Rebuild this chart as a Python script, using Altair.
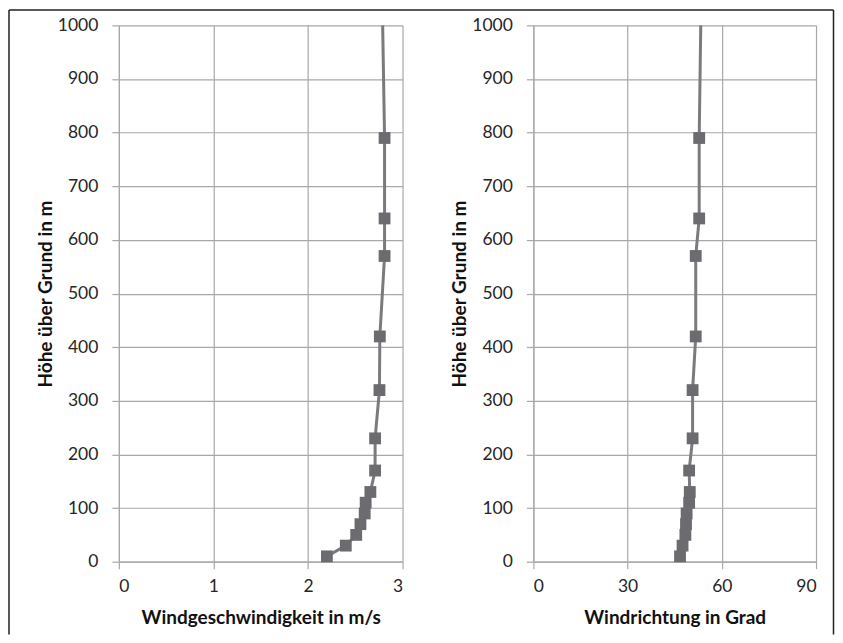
import altair as alt
import pandas as pd

# Height above ground (m) of the measured levels (markers)
heights = [10, 30, 50, 70, 90, 110, 130, 170, 230, 320, 420, 570, 640, 790]
# Wind speed (m/s) at those heights
speed = [2.20, 2.40, 2.51, 2.555, 2.60, 2.61, 2.66, 2.71, 2.71, 2.756, 2.76, 2.81, 2.81, 2.81]
# Wind direction (degrees) at those heights
direction = [46.7, 47.5, 48.4, 48.6, 48.8, 49.6, 49.8, 49.6, 50.7, 50.7, 51.7, 51.7, 52.8, 52.8]
# line continues to the top of the plot (no marker there)
top_height = 1000
top_speed = 2.79
top_direction = 53.3

y_ticks = list(range(0, 1001, 100))
speed_ticks = [0, 1, 2, 3]
dir_ticks = [0, 30, 60, 90]

pts = pd.DataFrame({"h": heights, "v": speed, "d": direction})
line_df = pd.DataFrame({
    "h": heights + [top_height],
    "v": speed + [top_speed],
    "d": direction + [top_direction],
})

FONT = "Lato"
GRID = "#a8a8a8"
LINE = "#7b7b7e"
MARK = "#6c6c70"
W, H = 284, 537


def y_axis():
    return alt.Axis(values=y_ticks, format="d", title="Höhe über Grund in m", grid=True,
                    gridColor=GRID, gridWidth=1.2, domainColor=GRID, domainWidth=1.2,
                    tickColor=GRID, tickSize=7, tickWidth=1.2, labelPadding=14,
                    labelFont=FONT, labelFontSize=17.5, labelColor="#262626",
                    titleFont=FONT, titleFontSize=19, titleFontWeight="bold",
                    titleColor="#111111", titlePadding=2)


def x_axis(ticks, title):
    return alt.Axis(values=ticks, format="d", title=title, grid=True, gridColor=GRID, gridWidth=1.2,
                    domainColor=GRID, domainWidth=1.2, tickColor=GRID, tickSize=7,
                    tickWidth=1.2, labelPadding=9, labelFont=FONT, labelFontSize=17.5,
                    labelColor="#262626", titleFont=FONT, titleFontSize=19,
                    titleFontWeight="bold", titleColor="#111111", titlePadding=13)


def panel(field, dom, ticks, title):
    x = alt.X(f"{field}:Q", scale=alt.Scale(domain=dom, nice=False), axis=x_axis(ticks, title))
    y = alt.Y("h:Q", scale=alt.Scale(domain=[0, 1000], nice=False), axis=y_axis())
    ln = alt.Chart(line_df).mark_line(color=LINE, strokeWidth=3).encode(x=x, y=y, order="h:Q")
    pt = alt.Chart(pts).mark_point(shape="square", filled=True, size=140, color=MARK, opacity=1).encode(x=x, y=y)
    return ln + pt


one = pd.DataFrame({"a": [0]})
frame_left = alt.Chart(one).mark_rule(color="#222222", strokeWidth=1.5).encode(
    x=alt.value(-110), y=alt.value(-15.5), y2=alt.value(610))
frame_top = alt.Chart(one).mark_rule(color="#222222", strokeWidth=1.5).encode(
    x=alt.value(-110), x2=alt.value(715.5), y=alt.value(-15.5))
frame_right = alt.Chart(one).mark_rule(color="#222222", strokeWidth=1.5).encode(
    x=alt.value(715.5), y=alt.value(-15.5), y2=alt.value(610))

left = alt.layer(frame_left, frame_top, frame_right,
                 panel("v", [0, 3], speed_ticks, "Windgeschwindigkeit in m/s")).properties(width=W, height=H)
right = panel("d", [0, 90], dir_ticks, "Windrichtung in Grad").properties(width=W - 1, height=H)

chart = alt.hconcat(left, right, spacing=131, bounds="flush").properties(
    padding=0, background="white"
).configure_view(stroke=None)

chart.save("out.html", embed_options={"renderer": "svg", "actions": False})
